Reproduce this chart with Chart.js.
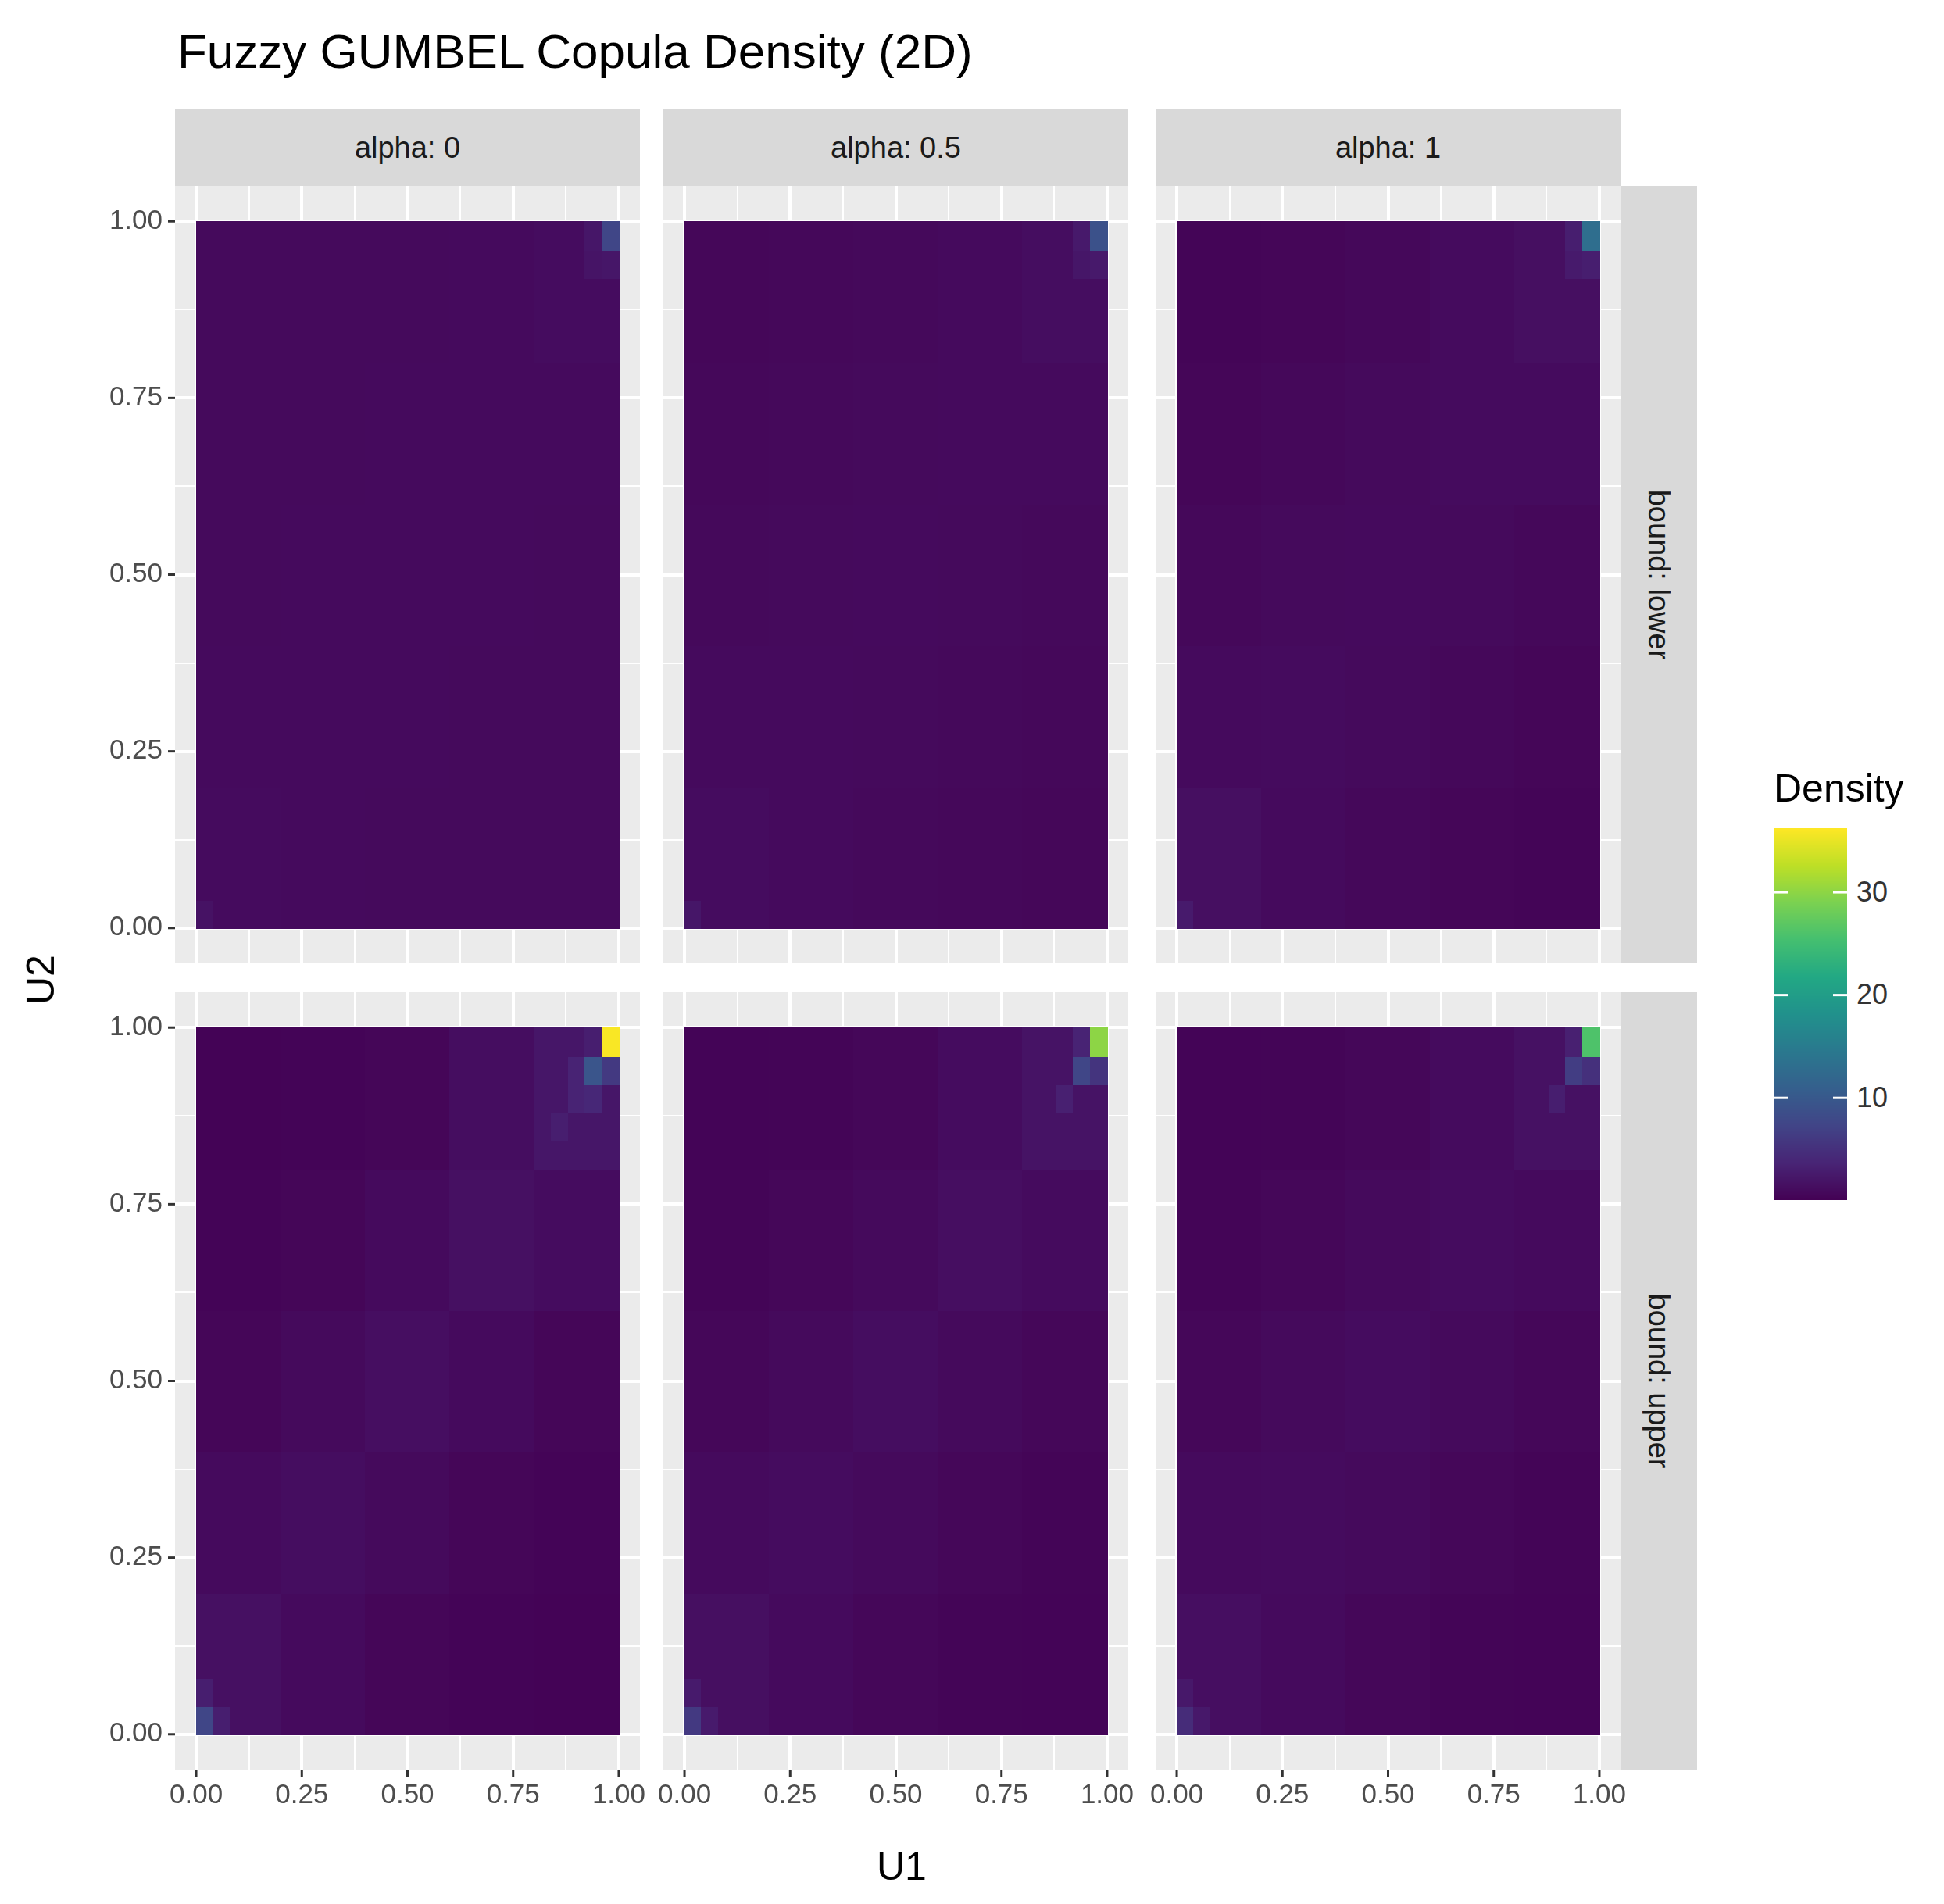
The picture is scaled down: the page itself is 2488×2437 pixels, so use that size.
<!DOCTYPE html>
<html lang="en">
<head>
    <meta charset="UTF-8">
    <title>Fuzzy GUMBEL Copula Density (2D)</title>
    <script src="https://cdn.jsdelivr.net/npm/chart.js@4"></script>
    <style>
        body { margin: 0; background: #fff; font-family: Arial, "Liberation Sans", sans-serif; }
        #page { position: relative; width: 2488px; height: 2437px; }
        canvas { position: absolute; }
        .title { position: absolute; left: 227px; top: 30px; font-size: 62px; color: #000; }
        .strip { position: absolute; background: #D9D9D9; color: #1A1A1A; font-size: 38px;
                 display: flex; align-items: center; justify-content: center; }
        .vstrip span { transform: rotate(90deg); white-space: nowrap; }
        .axt { position: absolute; font-size: 50px; color: #000; }
        .leg { position: absolute; font-size: 36px; color: #333; }
    </style>
</head>
<body>
<div id="page">
    <div class="title">Fuzzy GUMBEL Copula Density (2D)</div>
</div>
<script>
    // facets
    const alphaLevels = ['alpha: 0', 'alpha: 0.5', 'alpha: 1'];
    const boundLevels = ['bound: lower', 'bound: upper'];
    const axisTicks = [0, 0.25, 0.5, 0.75, 1];
    const legendTicks = [10, 20, 30];
    const densityMin = 0.02;
    const densityMax = 36.2;
    const gridN = 25; // cells per axis

    // coarse 5x5 background density per panel (row 0 = bottom, col 0 = left)
    const lowerA0 = [
        [1.1, 1.0, 0.9, 0.9, 0.9],
        [1.0, 1.0, 1.0, 0.9, 0.9],
        [0.9, 1.0, 1.0, 1.0, 0.9],
        [0.9, 0.9, 1.0, 1.0, 1.0],
        [0.9, 0.9, 0.9, 1.0, 1.2]
    ];
    const lowerA05 = [
        [1.2, 1.0, 0.8, 0.7, 0.6],
        [1.0, 1.0, 0.9, 0.8, 0.7],
        [0.8, 0.9, 1.0, 0.9, 0.8],
        [0.7, 0.8, 0.9, 1.0, 1.0],
        [0.6, 0.7, 0.8, 1.0, 1.3]
    ];
    const lowerA1 = [
        [1.5, 1.0, 0.7, 0.5, 0.4],
        [1.0, 1.1, 0.9, 0.7, 0.5],
        [0.7, 0.9, 1.0, 0.9, 0.7],
        [0.5, 0.7, 0.9, 1.1, 1.1],
        [0.4, 0.5, 0.7, 1.1, 1.5]
    ];
    const upperA0 = [
        [1.6, 1.0, 0.5, 0.3, 0.2],
        [1.0, 1.3, 0.9, 0.5, 0.3],
        [0.5, 0.9, 1.4, 1.0, 0.5],
        [0.3, 0.5, 1.0, 1.6, 1.2],
        [0.2, 0.3, 0.5, 1.3, 2.2]
    ];
    const upperA05 = [
        [1.5, 1.0, 0.6, 0.4, 0.3],
        [1.0, 1.2, 0.9, 0.6, 0.4],
        [0.6, 0.9, 1.3, 0.9, 0.6],
        [0.4, 0.6, 0.9, 1.4, 1.1],
        [0.3, 0.4, 0.6, 1.2, 1.9]
    ];
    const upperA1 = [
        [1.4, 1.0, 0.6, 0.4, 0.3],
        [1.0, 1.1, 0.9, 0.6, 0.4],
        [0.6, 0.9, 1.2, 0.9, 0.6],
        [0.4, 0.6, 0.9, 1.2, 1.0],
        [0.3, 0.4, 0.6, 1.1, 1.7]
    ];
    const coarseGrids = [[lowerA0, lowerA05, lowerA1], [upperA0, upperA05, upperA1]];

    // fine cells read separately: [col, row, density]
    const lowerA0Cells = [[24, 24, 7.5], [23, 24, 2.2], [24, 23, 2.2], [23, 23, 2.0], [0, 0, 1.8]];
    const lowerA05Cells = [[24, 24, 9], [23, 24, 2.5], [24, 23, 2.5], [23, 23, 2.2], [0, 0, 2.2]];
    const lowerA1Cells = [[24, 24, 13], [23, 24, 3.0], [24, 23, 3.0], [23, 23, 2.6], [0, 0, 2.6]];
    const upperA0Cells = [[24, 24, 36], [23, 24, 3.0], [24, 23, 6.0], [23, 23, 9.5], [22, 23, 3.5],
                          [23, 22, 4.0], [22, 22, 3.5], [21, 21, 3.0], [0, 0, 7.5], [1, 0, 3.0], [0, 1, 3.0]];
    const upperA05Cells = [[24, 24, 30], [23, 24, 3.5], [24, 23, 5.5], [23, 23, 7.5], [22, 22, 3.2],
                           [0, 0, 6.0], [1, 0, 2.6], [0, 1, 2.6]];
    const upperA1Cells = [[24, 24, 26], [23, 24, 3.2], [24, 23, 5.0], [23, 23, 6.5], [22, 22, 3.0],
                          [0, 0, 4.5], [1, 0, 2.4], [0, 1, 2.4]];
    const fineCells = [[lowerA0Cells, lowerA05Cells, lowerA1Cells], [upperA0Cells, upperA05Cells, upperA1Cells]];

    const viridis = ['#440154', '#482475', '#414487', '#355f8d', '#2a788e', '#21918c',
                     '#22a884', '#44bf70', '#7ad151', '#bddf26', '#fde725'];

    function hexRgb(h) { return [1, 3, 5].map(i => parseInt(h.substr(i, 2), 16)); }
    function colorFor(v) {
        let t = Math.max(0, Math.min(1, (v - densityMin) / (densityMax - densityMin)));
        const p = t * (viridis.length - 1);
        const i = Math.min(viridis.length - 2, Math.floor(p));
        const f = p - i;
        const a = hexRgb(viridis[i]), b = hexRgb(viridis[i + 1]);
        return 'rgb(' + a.map((c, k) => Math.round(c + (b[k] - c) * f)).join(',') + ')';
    }

    function panelCells(r, c) {
        const cells = [];
        const coarse = coarseGrids[r][c];
        const block = gridN / coarse.length;
        for (let j = 0; j < gridN; j++)
            for (let i = 0; i < gridN; i++)
                cells.push({ i, j, v: coarse[Math.floor(j / block)][Math.floor(i / block)] });
        fineCells[r][c].forEach(([i, j, v]) => { cells[j * gridN + i].v = v; });
        return cells;
    }

    const isMajor = v => axisTicks.some(t => Math.abs(t - v) < 1e-6);
    const labelFont = '35px Arial, "Liberation Sans"';

    const tilePlugin = {
        id: 'tiles',
        beforeDraw(chart) {
            const { ctx, chartArea: a } = chart;
            ctx.save();
            ctx.fillStyle = '#EBEBEB';
            ctx.fillRect(a.left, a.top, a.right - a.left, a.bottom - a.top);
            ctx.restore();
        },
        beforeDatasetsDraw(chart) {
            const { ctx, scales: { x, y } } = chart;
            const step = 1 / gridN;
            ctx.save();
            chart.data.datasets[0].data.forEach(d => {
                const x0 = x.getPixelForValue(d.i * step), x1 = x.getPixelForValue((d.i + 1) * step);
                const y0 = y.getPixelForValue((d.j + 1) * step), y1 = y.getPixelForValue(d.j * step);
                ctx.fillStyle = colorFor(d.v);
                ctx.fillRect(Math.floor(x0), Math.floor(y0), Math.ceil(x1 - x0) + 1, Math.ceil(y1 - y0) + 1);
            });
            ctx.restore();
        },
        afterDraw(chart) {
            // tick labels drawn here so the chart area is not padded for them
            const { ctx, scales: { x, y }, chartArea: a } = chart;
            const opt = chart.options.plugins.tiles;
            ctx.save();
            ctx.font = labelFont;
            ctx.fillStyle = '#4D4D4D';
            ctx.strokeStyle = '#333333';
            ctx.lineWidth = 3;
            axisTicks.forEach(v => {
                if (opt.xLabels) {
                    const px = x.getPixelForValue(v);
                    ctx.beginPath(); ctx.moveTo(px, a.bottom); ctx.lineTo(px, a.bottom + 9); ctx.stroke();
                    ctx.textAlign = 'center'; ctx.textBaseline = 'top';
                    ctx.fillText(v.toFixed(2), px, a.bottom + 16);
                }
                if (opt.yLabels) {
                    const py = y.getPixelForValue(v);
                    ctx.beginPath(); ctx.moveTo(a.left, py); ctx.lineTo(a.left - 9, py); ctx.stroke();
                    ctx.textAlign = 'right'; ctx.textBaseline = 'middle';
                    ctx.fillText(v.toFixed(2), a.left - 16, py);
                }
            });
            ctx.restore();
        }
    };

    const page = document.getElementById('page');
    const colX = [224, 849, 1479];
    const rowY = [238, 1270];
    const panelW = 595, panelH = 995;
    const yAxisW = 130, xAxisH = 75, stripH = 98, sidePad = 50;

    function makeScale(size, horizontal) {
        return {
            type: 'linear', min: -0.05, max: 1.05,
            afterBuildTicks: s => { s.ticks = []; for (let k = 0; k <= 8; k++) s.ticks.push({ value: k / 8 }); },
            border: { display: false },
            grid: {
                color: '#FFFFFF',
                lineWidth: ctx => isMajor(ctx.tick.value) ? 4 : 2,
                drawTicks: false
            },
            ticks: { display: false },
            afterFit: s => { if (horizontal) s.height = size; else s.width = size; }
        };
    }

    for (let r = 0; r < 2; r++) {
        for (let c = 0; c < 3; c++) {
            const left = c === 0 ? yAxisW : 0;
            const bottom = r === 1 ? xAxisH : 0;
            const pad = r === 1 ? sidePad : 0;
            const cv = document.createElement('canvas');
            cv.width = panelW + left + 2 * pad;
            cv.height = panelH + bottom;
            cv.style.left = (colX[c] - left - pad) + 'px';
            cv.style.top = rowY[r] + 'px';
            cv.style.width = cv.width + 'px';
            cv.style.height = cv.height + 'px';
            page.appendChild(cv);
            new Chart(cv, {
                type: 'scatter',
                data: { datasets: [{ data: panelCells(r, c).map(d => ({ x: (d.i + 0.5) / gridN, y: (d.j + 0.5) / gridN, ...d })), pointRadius: 0 }] },
                options: {
                    responsive: false, animation: false, devicePixelRatio: 1,
                    layout: { padding: { left: pad, right: pad, top: 0, bottom: 0 } },
                    plugins: { legend: { display: false }, tooltip: { enabled: false },
                               tiles: { xLabels: r === 1, yLabels: c === 0 } },
                    scales: { x: makeScale(bottom, true), y: makeScale(left, false) }
                },
                plugins: [tilePlugin]
            });
        }
    }

    // strips
    alphaLevels.forEach((t, c) => {
        const d = document.createElement('div');
        d.className = 'strip';
        Object.assign(d.style, { left: colX[c] + 'px', top: (rowY[0] - stripH) + 'px', width: panelW + 'px', height: stripH + 'px' });
        d.textContent = t;
        page.appendChild(d);
    });
    boundLevels.forEach((t, r) => {
        const d = document.createElement('div');
        d.className = 'strip vstrip';
        Object.assign(d.style, { left: (colX[2] + panelW) + 'px', top: rowY[r] + 'px', width: stripH + 'px', height: panelH + 'px' });
        d.innerHTML = '<span>' + t + '</span>';
        page.appendChild(d);
    });

    // axis titles
    const u1 = document.createElement('div');
    u1.className = 'axt'; u1.textContent = 'U1';
    Object.assign(u1.style, { left: '1122px', top: '2360px' });
    page.appendChild(u1);
    const u2 = document.createElement('div');
    u2.className = 'axt'; u2.textContent = 'U2';
    Object.assign(u2.style, { left: '20px', top: '1225px', transform: 'rotate(-90deg)' });
    page.appendChild(u2);

    // colour bar legend
    const legTop = 1060, legBot = 1536, legLeft = 2270, legW = 94;
    const lt = document.createElement('div');
    lt.className = 'leg'; lt.textContent = 'Density';
    Object.assign(lt.style, { left: legLeft + 'px', top: (legTop - 80) + 'px', fontSize: '50px', color: '#000' });
    page.appendChild(lt);
    const bar = document.createElement('canvas');
    bar.width = legW; bar.height = legBot - legTop;
    Object.assign(bar.style, { left: legLeft + 'px', top: legTop + 'px' });
    page.appendChild(bar);
    const bctx = bar.getContext('2d');
    for (let py = 0; py < bar.height; py++) {
        const v = densityMax - (py / bar.height) * (densityMax - densityMin);
        bctx.fillStyle = colorFor(v);
        bctx.fillRect(0, py, legW, 1);
    }
    legendTicks.forEach(v => {
        const py = bar.height * (densityMax - v) / (densityMax - densityMin);
        bctx.fillStyle = '#FFFFFF';
        bctx.fillRect(0, py - 1, 18, 3);
        bctx.fillRect(legW - 18, py - 1, 18, 3);
        const lb = document.createElement('div');
        lb.className = 'leg'; lb.textContent = v;
        Object.assign(lb.style, { left: (legLeft + legW + 12) + 'px', top: (legTop + py - 21) + 'px' });
        page.appendChild(lb);
    });
</script>
</body>
</html>
